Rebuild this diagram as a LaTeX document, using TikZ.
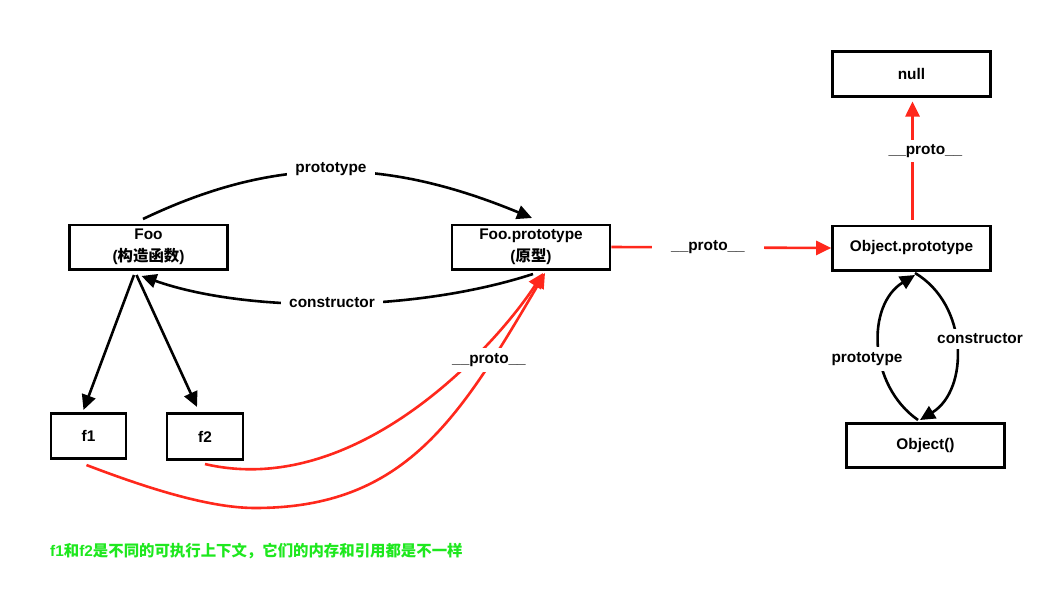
\documentclass[tikz,border=0pt]{standalone}
\usepackage{fontspec}
\setmainfont{Liberation Sans}
\newfontfamily\cjk{Noto Sans CJK SC}
\usetikzlibrary{arrows.meta,calc}
\definecolor{pred}{RGB}{255,40,28}
\definecolor{pgreen}{RGB}{30,232,30}
\begin{document}
\begin{tikzpicture}[x=1pt,y=-1pt,
  every node/.style={font=\fontsize{15.4}{19}\selectfont\bfseries},
  box/.style={draw=black,line width=2.6pt,fill=white,minimum width=158pt,minimum height=44.4pt,inner sep=0pt,align=center},
  small/.style={box,minimum width=75pt,minimum height=45.5pt},
  lbl/.style={fill=white,inner xsep=8pt,inner ysep=5pt},
  conn/.style={line width=2.6pt},
  arr/.style={conn,-{Triangle[length=15pt,width=14pt]}},
  rarr/.style={arr,draw=pred,-{Triangle[length=15pt,width=14pt,fill=pred]}},
  rline/.style={conn,draw=pred}]
\fill[white] (0,0) rectangle (1058,594);
\useasboundingbox (0,0) rectangle (1058,594);

% boxes
\node[box] (foo) at (148.5,247) {Foo\\[3pt]({\cjk 构造函数})};
\node[box] (fp) at (531,247) {Foo.prototype\\[3pt]({\cjk 原型})};
\node[box] (op) at (911.5,248) {Object.prototype};
\node[box] (null) at (911.5,74) {null};
\node[box] (obj) at (925.5,445.5) {Object()};
\node[small] (f1) at (88.5,436) {f1};
\node[small,minimum width=76pt,minimum height=46.5pt] (f2) at (205,436.5) {f2};

% black connectors
\draw[arr] ($(foo.north)+(-5.5,-4.5)$) .. controls +(130,-62) and +(-150,-62) .. ($(fp.north)+(1,-5.5)$);
\draw[arr] ($(fp.south)+(2,3.5)$) .. controls +(-120,39) and +(105,37) .. ($(foo.south)+(-7,5.5)$);
\draw[arr] ($(foo.south)+(-14.5,4.5)$) -- ($(f1.north)+(-5,-2)$);
\draw[arr] ($(foo.south)+(-12,4.5)$) -- ($(f2.north)+(-8,-5)$);

% red connectors
\coordinate (f1low) at (255,508);
\draw[rarr] ($(f1.south)+(-2,5)$) .. controls +(50,19) and +(-50,0) .. (f1low)
   .. controls +(150,0) and +(-86,146) .. ($(fp.south)+(14,2.5)$);
\draw[rarr] ($(f2.south)+(0,3)$) .. controls +(155,36) and +(-43,67) .. ($(fp.south)+(12,2.5)$);
\draw[rarr] (fp.east) -- (op.west);
\draw[rarr] ($(op.north)+(1,-5)$) -- ($(null.south)+(1,4)$);

% Object.prototype <-> Object()
\draw[arr] ($(obj.north)+(-7.5,-2)$) .. controls +(-50,-35) and +(-49,30) .. ($(op.south)+(3.5,3.5)$);
\draw[arr] ($(op.south)+(3.5,1.5)$) .. controls +(54,32) and +(49,-30) .. ($(obj.north)+(-5.5,-2)$);

% labels
\node[lbl] (l1) at (331,169) {prototype};
\node[lbl] (l2) at (332,303) {constructor};
\node[lbl,inner xsep=3pt] (l3) at (489,360) {\_\_proto\_\_};
\node[lbl,inner xsep=19pt] (l4) at (708,247) {\_\_proto\_\_};
\node[lbl,inner xsep=3pt,inner ysep=4.5pt] (l5) at (925.5,151) {\_\_proto\_\_};
\node[lbl,inner xsep=3pt] (l6) at (867,359) {prototype};
\node[lbl,inner xsep=3pt] (l7) at (980,339) {constructor};

% note
\node[anchor=west,text=pgreen,inner sep=0pt] (note) at (50,551) {f1{\cjk 和}f2{\cjk 是不同的可执行上下文，它们的内存和引用都是不一样}};
\end{tikzpicture}
\end{document}
